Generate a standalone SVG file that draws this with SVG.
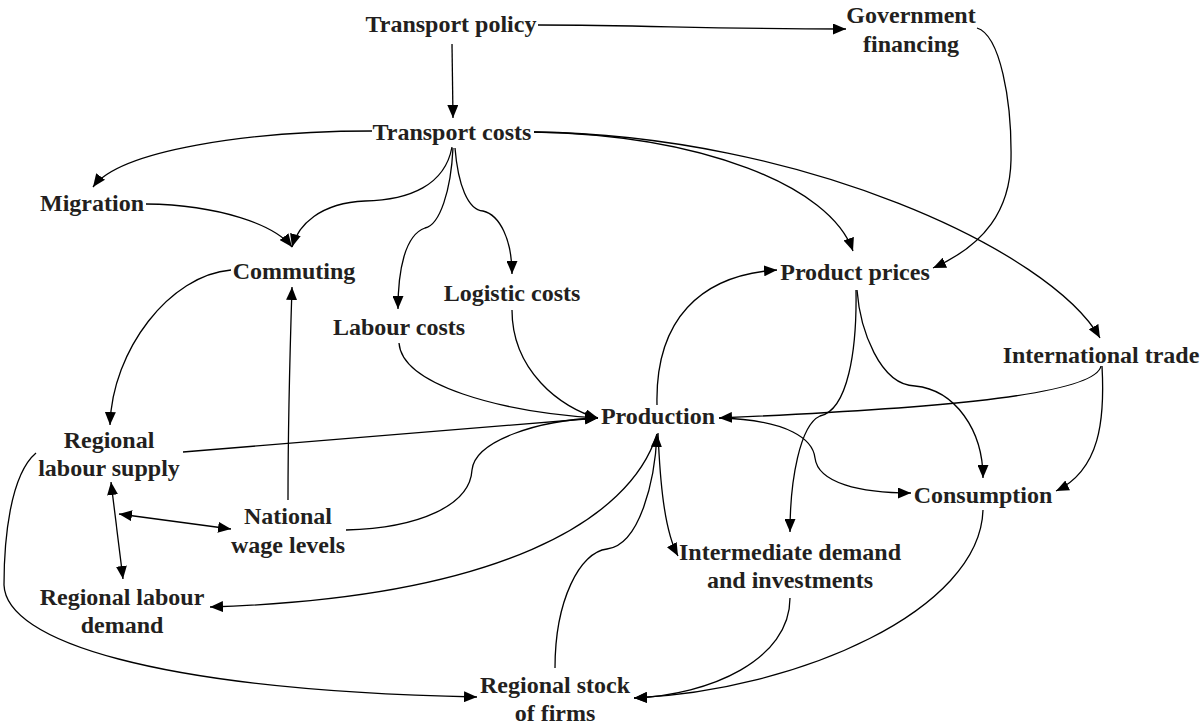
<svg xmlns="http://www.w3.org/2000/svg" width="1203" height="726" viewBox="0 0 1203 726">
<style>
.t{font-family:"Liberation Serif","Times New Roman",serif;font-weight:bold;font-size:24px;fill:#231f20;text-anchor:middle}
.c{fill:none;stroke:#000;stroke-width:1.3}
</style>
<defs>
<marker id="a" viewBox="0 0 13 11" refX="13" refY="5.5" markerWidth="13" markerHeight="11" markerUnits="userSpaceOnUse" orient="auto-start-reverse"><path d="M0,0 L13,5.5 L0,11 z" fill="#000"/></marker>
</defs>
<rect width="1203" height="726" fill="#fff"/>
<g id="connectors">
<path class="c" marker-end="url(#a)" d="M538,25 C650,25 700,29 846,29"/>
<path class="c" marker-end="url(#a)" d="M452,44 L453,118"/>
<path class="c" marker-end="url(#a)" d="M977,28 C1000,35 1012,100 1011,160 C1010,210 985,245 933,268"/>
<path class="c" marker-end="url(#a)" d="M372,131 C250,131 120,150 93,187"/>
<path class="c" marker-end="url(#a)" d="M452,147 C445,185 410,200 365,201 C320,203 298,225 292,247"/>
<path class="c" marker-end="url(#a)" d="M146,204 C220,205 275,225 292,247"/>
<path class="c" marker-end="url(#a)" d="M453,148 C451,190 440,225 425,228 C405,235 398,270 398,309"/>
<path class="c" marker-end="url(#a)" d="M455,148 C458,185 468,210 483,211 C500,215 512,240 512,274"/>
<path class="c" marker-end="url(#a)" d="M534,132 C700,135 830,185 853,251"/>
<path class="c" marker-end="url(#a)" d="M534,132 C800,135 1050,250 1100,338"/>
<path class="c" marker-end="url(#a)" d="M231,270 C170,275 112,350 110,425"/>
<path class="c" marker-end="url(#a)" d="M288,500 C288,420 290,350 292,287"/>
<path class="c" marker-end="url(#a)" d="M399,343 C402,385 500,412 598,418"/>
<path class="c" marker-end="url(#a)" d="M512,310 C512,370 560,408 598,418"/>
<path class="c" marker-end="url(#a)" d="M183,452 L598,418"/>
<path class="c" marker-end="url(#a)" d="M346,530 C420,528 470,505 472,470 C475,440 540,420 598,418"/>
<path class="c" marker-end="url(#a)" d="M657,405 C655,320 700,275 777,270"/>
<path class="c" marker-end="url(#a)" d="M856,290 C857,350 848,410 820,416 C800,425 790,480 790,532"/>
<path class="c" marker-end="url(#a)" d="M857,290 C860,330 880,385 915,386 C955,390 983,430 983,478"/>
<path class="c" marker-end="url(#a)" d="M1101,366 C1095,398 900,410 719,418"/>
<path class="c" marker-end="url(#a)" d="M1102,366 C1105,420 1100,470 1056,491"/>
<path class="c" marker-end="url(#a)" d="M719,418 C790,420 813,440 815,458 C818,483 860,493 911,493"/>
<path class="c" marker-end="url(#a)" d="M658,433 C660,480 664,530 678,556"/>
<path class="c" marker-end="url(#a)" d="M555,668 C555,600 580,552 607,549 C640,545 655,480 657,434"/>
<path class="c" marker-end="url(#a)" d="M657,434 C630,520 500,598 210,607"/>
<path class="c" marker-start="url(#a)" marker-end="url(#a)" d="M119,514 L231,529"/>
<path class="c" marker-start="url(#a)" marker-end="url(#a)" d="M111,482 L123,579"/>
<path class="c" marker-end="url(#a)" d="M36,453 C10,475 4,540 4,585 C6,640 150,690 477,697"/>
<path class="c" marker-end="url(#a)" d="M790,598 C790,660 710,695 634,698"/>
<path class="c" marker-end="url(#a)" d="M983,510 C980,610 800,690 634,698"/>
</g>
<g id="n-transport-policy"><text class="t" x="451" y="32">Transport policy</text></g>
<g id="n-government-financing"><text class="t" x="911" y="23">Government</text><text class="t" x="911" y="52">financing</text></g>
<g id="n-transport-costs"><text class="t" x="452" y="140">Transport costs</text></g>
<g id="n-migration"><text class="t" x="92" y="211">Migration</text></g>
<g id="n-commuting"><text class="t" x="294" y="279">Commuting</text></g>
<g id="n-logistic-costs"><text class="t" x="512" y="301">Logistic costs</text></g>
<g id="n-labour-costs"><text class="t" x="399" y="335">Labour costs</text></g>
<g id="n-product-prices"><text class="t" x="855" y="280">Product prices</text></g>
<g id="n-international-trade"><text class="t" x="1101" y="363">International trade</text></g>
<g id="n-production"><text class="t" x="658" y="424">Production</text></g>
<g id="n-regional-labour-supply"><text class="t" x="109" y="448">Regional</text><text class="t" x="109" y="476">labour supply</text></g>
<g id="n-national-wage-levels"><text class="t" x="288" y="524">National</text><text class="t" x="288" y="553">wage levels</text></g>
<g id="n-consumption"><text class="t" x="983" y="503">Consumption</text></g>
<g id="n-intermediate-demand"><text class="t" x="790" y="560">Intermediate demand</text><text class="t" x="790" y="588">and investments</text></g>
<g id="n-regional-labour-demand"><text class="t" x="122" y="605">Regional labour</text><text class="t" x="122" y="633">demand</text></g>
<g id="n-regional-stock"><text class="t" x="555" y="693">Regional stock</text><text class="t" x="555" y="721">of firms</text></g>
</svg>
